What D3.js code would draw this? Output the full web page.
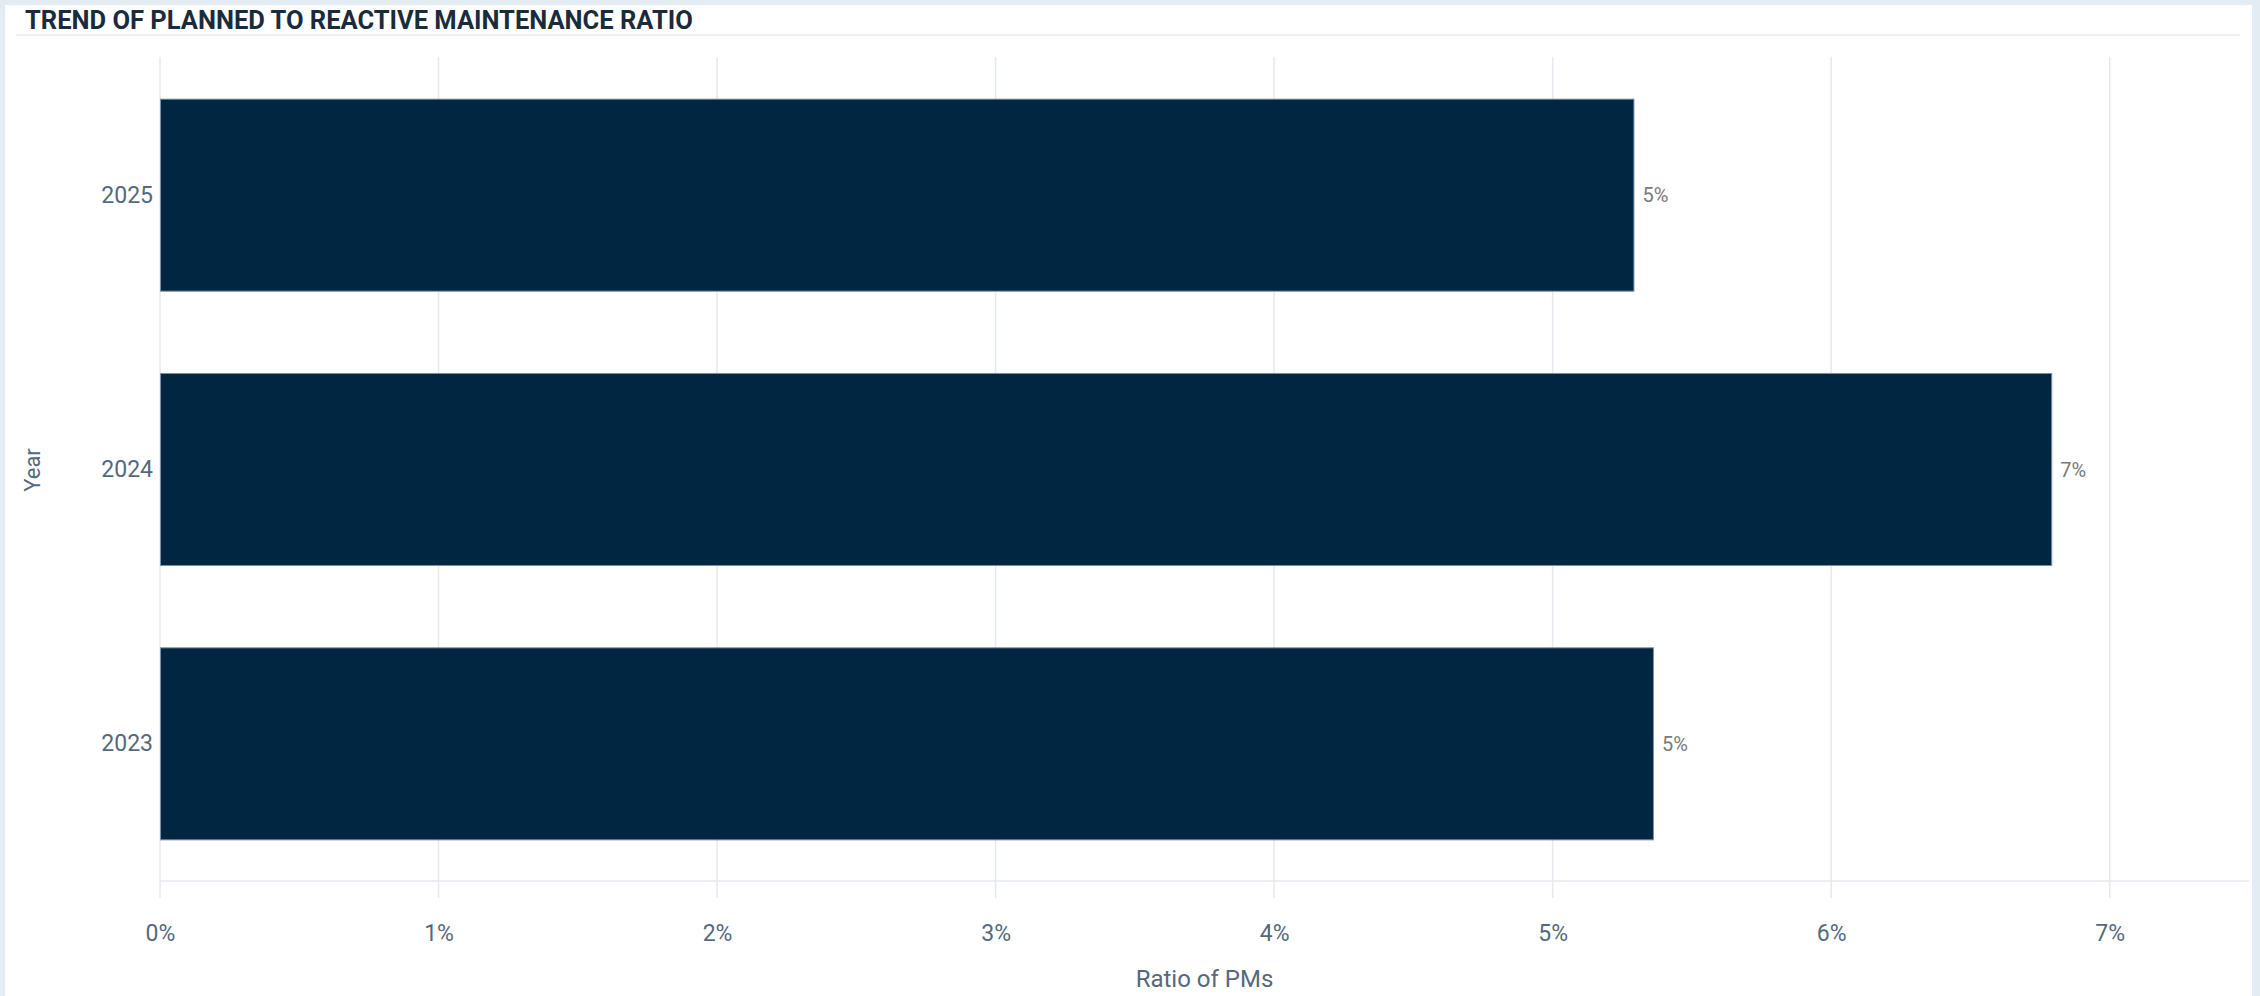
<!DOCTYPE html>
<html>
<head>
<meta charset="utf-8">
<script src="https://cdn.jsdelivr.net/npm/d3@7"></script>
<style>
  html, body { margin: 0; padding: 0; background: #e2ecf2; }
  svg { display: block; font-family: Roboto, "Noto Sans", sans-serif; }
</style>
</head>
<body>
<svg id="chart" width="2260" height="996"></svg>
<script>
const years = ["2025", "2024", "2023"];
const ratios = [0.0529, 0.0679, 0.0536];
const dataLabels = ["5%", "7%", "5%"];
const xTicks = [0, 0.01, 0.02, 0.03, 0.04, 0.05, 0.06, 0.07];
const xTickLabels = ["0%", "1%", "2%", "3%", "4%", "5%", "6%", "7%"];
const chartTitle = "TREND OF PLANNED TO REACTIVE MAINTENANCE RATIO";
const xTitle = "Ratio of PMs";
const yTitle = "Year";

const svg = d3.select("#chart");
const W = 2260, H = 996;

// panel
svg.append("rect").attr("x", 5).attr("y", 5).attr("width", 2247).attr("height", H - 5).attr("fill", "#ffffff");

// title
svg.append("text").attr("x", 25).attr("y", 29)
  .attr("font-size", 25.5).attr("font-weight", 700).attr("fill", "#1a2b3c")
  .text(chartTitle);
svg.append("line").attr("x1", 16).attr("x2", 2240).attr("y1", 35).attr("y2", 35)
  .attr("stroke", "#eef0f3").attr("stroke-width", 2);

const m = { left: 160, right: 2249, top: 58, bottom: 881 };
const x = d3.scaleLinear().domain([0, 0.075]).range([m.left, m.right]);
const y = d3.scaleBand().domain(years).range([m.top, m.bottom]).paddingInner(0.3).paddingOuter(0.15);

// gridlines
const g = svg.append("g");
g.selectAll("line.grid").data(xTicks).join("line")
  .attr("class", "grid")
  .attr("x1", d => x(d)).attr("x2", d => x(d))
  .attr("y1", m.top - 1).attr("y2", m.bottom + 17)
  .attr("stroke", "#e6e9ee").attr("stroke-width", 1.5);
g.append("line").attr("x1", m.left).attr("x2", m.right).attr("y1", m.bottom).attr("y2", m.bottom)
  .attr("stroke", "#e6e9ee").attr("stroke-width", 1.5);

// x axis labels
const xAxis = d3.axisBottom(x).tickValues(xTicks).tickFormat((d, i) => xTickLabels[i]).tickSize(0).tickPadding(0);
const xa = svg.append("g").attr("transform", `translate(0,${m.bottom})`).call(xAxis);
xa.select(".domain").remove();
xa.selectAll("text").attr("font-size", 23).attr("fill", "#55697c")
  .attr("font-family", "Roboto, sans-serif").attr("dy", 0).attr("y", 60);

// y axis labels
const yAxis = d3.axisLeft(y).tickSize(0).tickPadding(7);
const ya = svg.append("g").attr("transform", `translate(${m.left},0)`).call(yAxis);
ya.select(".domain").remove();
ya.selectAll("text").attr("font-size", 23).attr("fill", "#55697c").attr("font-family", "Roboto, sans-serif");

// bars
svg.selectAll("rect.bar").data(years).join("rect")
  .attr("class", "bar")
  .attr("x", x(0) + 0.5)
  .attr("y", d => y(d))
  .attr("width", (d, i) => x(ratios[i]) - x(0))
  .attr("height", y.bandwidth())
  .attr("fill", "#002642")
  .attr("stroke", "#7d8fa3").attr("stroke-width", 1);

// data labels
svg.selectAll("text.dl").data(years).join("text")
  .attr("class", "dl")
  .attr("x", (d, i) => x(ratios[i]) + 9)
  .attr("y", d => y(d) + y.bandwidth() / 2)
  .attr("dy", "0.35em")
  .attr("font-size", 20).attr("fill", "#7a7a7a")
  .text((d, i) => dataLabels[i]);

// axis titles
svg.append("text").attr("x", (m.left + m.right) / 2).attr("y", 987)
  .attr("text-anchor", "middle").attr("font-size", 24).attr("fill", "#55697c")
  .text(xTitle);
svg.append("text").attr("transform", `translate(40,470) rotate(-90)`)
  .attr("text-anchor", "middle").attr("font-size", 22).attr("fill", "#55697c")
  .text(yTitle);
</script>
</body>
</html>
